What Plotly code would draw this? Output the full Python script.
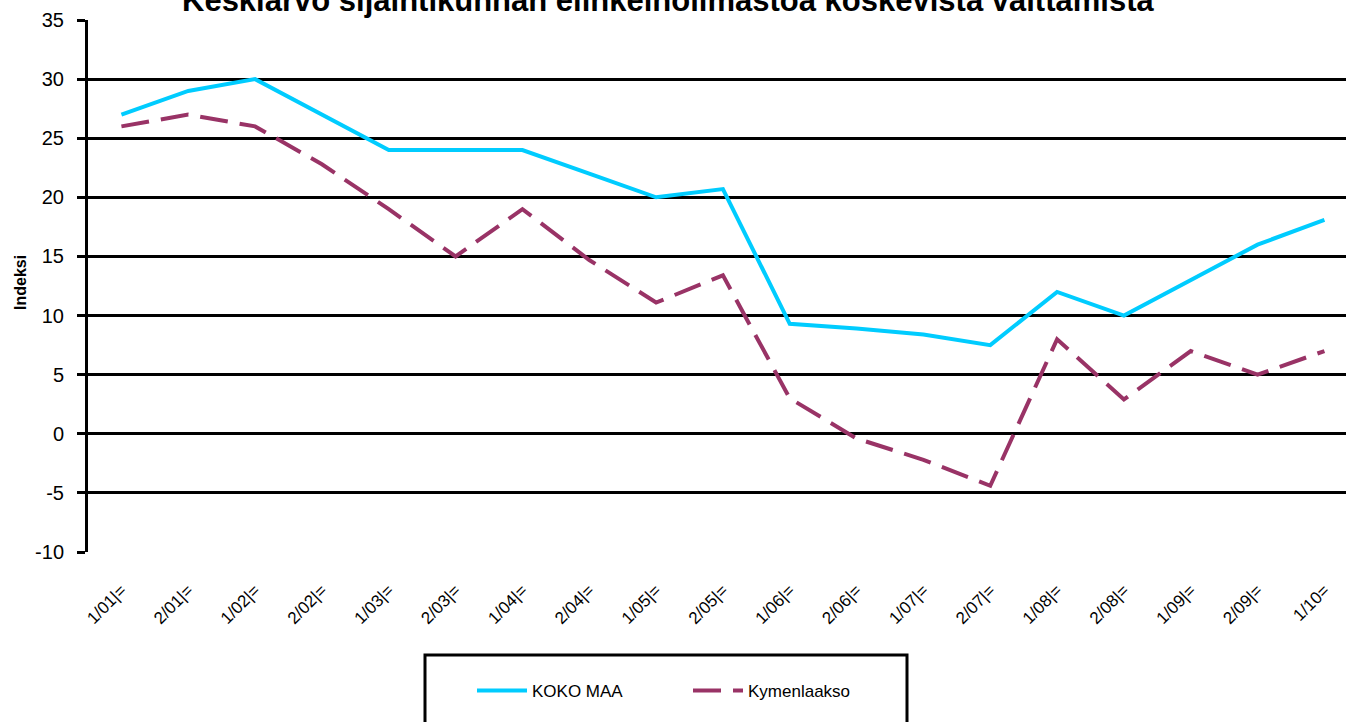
import plotly.graph_objects as go

categories = ["1/01|=", "2/01|=", "1/02|=", "2/02|=", "1/03|=", "2/03|=", "1/04|=", "2/04|=",
              "1/05|=", "2/05|=", "1/06|=", "2/06|=", "1/07|=", "2/07|=", "1/08|=", "2/08|=",
              "1/09|=", "2/09|=", "1/10="]
koko_maa = [27, 29, 30, 27, 24, 24, 24, 22, 20, 20.7, 9.3, 8.9, 8.4, 7.5, 12, 10, 13, 16, 18.1]
kymenlaakso = [26, 27, 26, 22.8, 19, 15, 19, 14.7, 11.1, 13.4, 3, -0.4, -2.2, -4.4, 8, 2.9, 7, 5, 7]
y_ticks = [-10, -5, 0, 5, 10, 15, 20, 25, 30, 35]
y_tick_labels = ["-10", "-5", "0", "5", "10", "15", "20", "25", "30", "35"]

W, H = 1346, 722
L, R, T, B = 88, 0, 20, 170
pw, ph = W - L - R, H - T - B
step = (1324 - 121) / 18.0

def px(x):
    return (x - L) / pw

def py(y):
    return (H - B - y) / ph

font = "Liberation Sans, Arial, sans-serif"

fig = go.Figure()
fig.add_trace(go.Scatter(x=list(range(len(categories))), y=koko_maa, mode="lines", name="KOKO MAA",
                         line=dict(color="#00CCFF", width=4)))
fig.add_trace(go.Scatter(x=list(range(len(categories))), y=kymenlaakso, mode="lines", name="Kymenlaakso",
                         line=dict(color="#993366", width=4, dash="28px,12px")))

n = len(categories)
fig.update_layout(
    width=W, height=H,
    margin=dict(l=L, r=R, t=T, b=B, autoexpand=False),
    paper_bgcolor="white", plot_bgcolor="white",
    font=dict(family=font, color="black"),
    showlegend=True,
    legend=dict(orientation="h", x=px(472), xanchor="left", y=py(691), yanchor="middle",
                font=dict(size=17, family=font), bgcolor="rgba(0,0,0,0)",
                entrywidth=151, entrywidthmode="pixels", itemwidth=50),
    xaxis=dict(range=[-0.5, -0.5 + pw / step], automargin=False,
               tickmode="array", tickvals=list(range(n)), ticktext=categories,
               tickangle=-45, tickfont=dict(size=17, family=font), showgrid=False,
               zeroline=False, showline=False, ticks="", ticklabelstandoff=24),
    yaxis=dict(range=[-10, 35], tickmode="array", tickvals=y_ticks, ticktext=y_tick_labels,
               automargin=False,
               showgrid=True, gridcolor="black", gridwidth=2.5, zeroline=False,
               showline=True, linecolor="black", linewidth=3, ticks="outside",
               ticklen=8, tickwidth=3, tickcolor="black",
               tickfont=dict(size=20, family=font), ticklabelstandoff=9),
    shapes=[dict(type="rect", xref="paper", yref="paper", x0=px(425), x1=px(907),
                 y0=py(760), y1=py(655), line=dict(color="black", width=3),
                 fillcolor="rgba(0,0,0,0)")],
    annotations=[
        dict(text="<b>Keskiarvo sijaintikunnan elinkeinoilmastoa koskevista väittämistä</b>",
             xref="paper", yref="paper", x=px(668), y=py(1), xanchor="center",
             yanchor="middle", showarrow=False, font=dict(size=31, family=font)),
        dict(text="<b>Indeksi</b>", xref="paper", yref="paper", x=px(20), y=py(283),
             xanchor="center", yanchor="middle", textangle=-90, showarrow=False,
             font=dict(size=16, family=font)),
    ],
)

fig.write_html("out.html", config={"displayModeBar": False},
               post_script="document.body.style.margin='0';document.body.style.padding='0';"
                           "document.body.style.overflow='hidden';")
